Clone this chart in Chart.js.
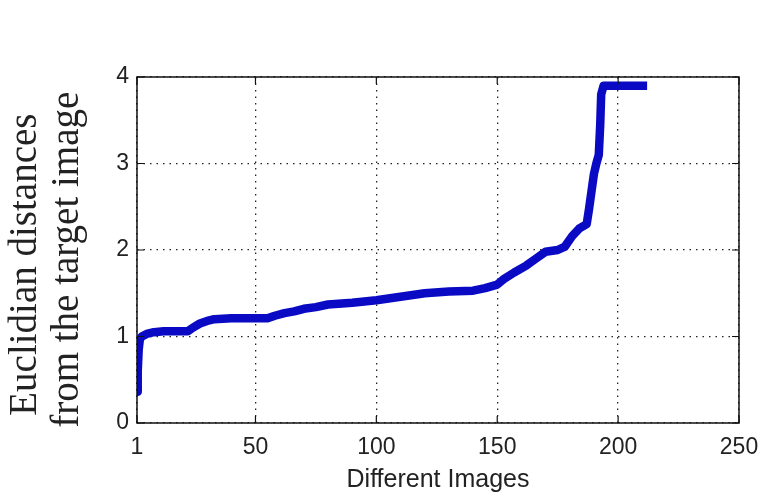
<!DOCTYPE html>
<html>
<head>
<meta charset="utf-8">
<script src="https://cdn.jsdelivr.net/npm/chart.js@4"></script>
<style>
  html, body { margin: 0; padding: 0; background: #fff; }
  #wrap { width: 762px; height: 496px; }
</style>
</head>
<body>
<div id="wrap"><canvas id="chart" width="762" height="496"></canvas></div>
<script>
// Dữ liệu
const imageIndex = [1, 1.3, 1.7, 2.2, 3, 5, 8, 12, 18, 22, 24, 27, 30, 33, 40, 50, 55, 58, 62, 66, 70, 75, 80, 90, 100, 105, 110, 115, 120, 130, 140, 145, 150, 153, 157, 162, 166, 170, 175, 178, 181, 184, 187, 188, 189, 190, 191, 192, 192.6, 193, 194, 200, 212];
const distances = [0.36, 0.6, 0.85, 0.97, 1.0, 1.03, 1.05, 1.06, 1.06, 1.06, 1.1, 1.15, 1.18, 1.2, 1.21, 1.21, 1.21, 1.24, 1.27, 1.29, 1.32, 1.34, 1.37, 1.39, 1.42, 1.44, 1.46, 1.48, 1.5, 1.52, 1.53, 1.56, 1.6, 1.67, 1.74, 1.82, 1.9, 1.98, 2.0, 2.04, 2.16, 2.25, 2.3, 2.48, 2.68, 2.88, 3.0, 3.1, 3.45, 3.8, 3.9, 3.9, 3.9];
const xTicks = [1, 50, 100, 150, 200, 250];
const yTicks = [0, 1, 2, 3, 4];

const points = imageIndex.map((x, i) => ({ x: x, y: distances[i] }));

// Khung hộp + vạch chia hướng vào trong (kiểu MATLAB)
const boxPlugin = {
  id: 'box',
  afterDraw(chart) {
    const { ctx, chartArea: a, scales } = chart;
    ctx.save();
    ctx.strokeStyle = '#111';
    ctx.lineWidth = 1.5;
    ctx.strokeRect(a.left, a.top, a.right - a.left, a.bottom - a.top);
    ctx.lineWidth = 1.2;
    ctx.beginPath();
    xTicks.forEach(v => {
      const px = scales.x.getPixelForValue(v);
      ctx.moveTo(px, a.bottom); ctx.lineTo(px, a.bottom - 7);
      ctx.moveTo(px, a.top); ctx.lineTo(px, a.top + 7);
    });
    yTicks.forEach(v => {
      const py = scales.y.getPixelForValue(v);
      ctx.moveTo(a.left, py); ctx.lineTo(a.left + 7, py);
      ctx.moveTo(a.right, py); ctx.lineTo(a.right - 7, py);
    });
    ctx.stroke();
    ctx.restore();
  }
};

new Chart(document.getElementById('chart'), {
  type: 'line',
  data: {
    datasets: [{
      data: points,
      borderColor: '#0a0ac4',
      borderWidth: 8.5,
      pointRadius: 0,
      fill: false,
      tension: 0,
      borderJoinStyle: 'round'
    }]
  },
  options: {
    responsive: false,
    animation: false,
    layout: { padding: { left: 0, right: 23, top: 77, bottom: 0 } },
    plugins: { legend: { display: false }, tooltip: { enabled: false } },
    scales: {
      x: {
        type: 'linear',
        min: 1,
        max: 250,
        afterBuildTicks: s => { s.ticks = xTicks.map(v => ({ value: v })); },
        afterFit: s => { s.height = 73; s.paddingLeft = 0; s.paddingRight = 0; },
        grid: { color: '#222', lineWidth: 1.3, drawTicks: false },
        border: { display: false, dash: [1.5, 5] },
        ticks: {
          color: '#222',
          padding: 11,
          maxRotation: 0,
          font: { family: 'Liberation Sans', size: 23 }
        },
        title: {
          display: true,
          text: 'Different Images',
          color: '#222',
          padding: { top: 0, bottom: 1 },
          font: { family: 'Liberation Sans', size: 25 }
        }
      },
      y: {
        min: 0,
        max: 4,
        afterBuildTicks: s => { s.ticks = yTicks.map(v => ({ value: v })); },
        afterFit: s => { s.width = 137; s.paddingTop = 0; s.paddingBottom = 0; },
        grid: { color: '#222', lineWidth: 1.3, drawTicks: false },
        border: { display: false, dash: [1.5, 5] },
        ticks: {
          color: '#222',
          padding: 8,
          font: { family: 'Liberation Sans', size: 23 }
        },
        title: {
          display: true,
          text: ['Euclidian distances   ', 'from the target image  '],
          color: '#222',
          padding: { top: 5, bottom: 0 },
          font: { family: 'Liberation Serif', size: 39, lineHeight: 1.07 }
        }
      }
    }
  },
  plugins: [boxPlugin]
});
</script>
</body>
</html>
